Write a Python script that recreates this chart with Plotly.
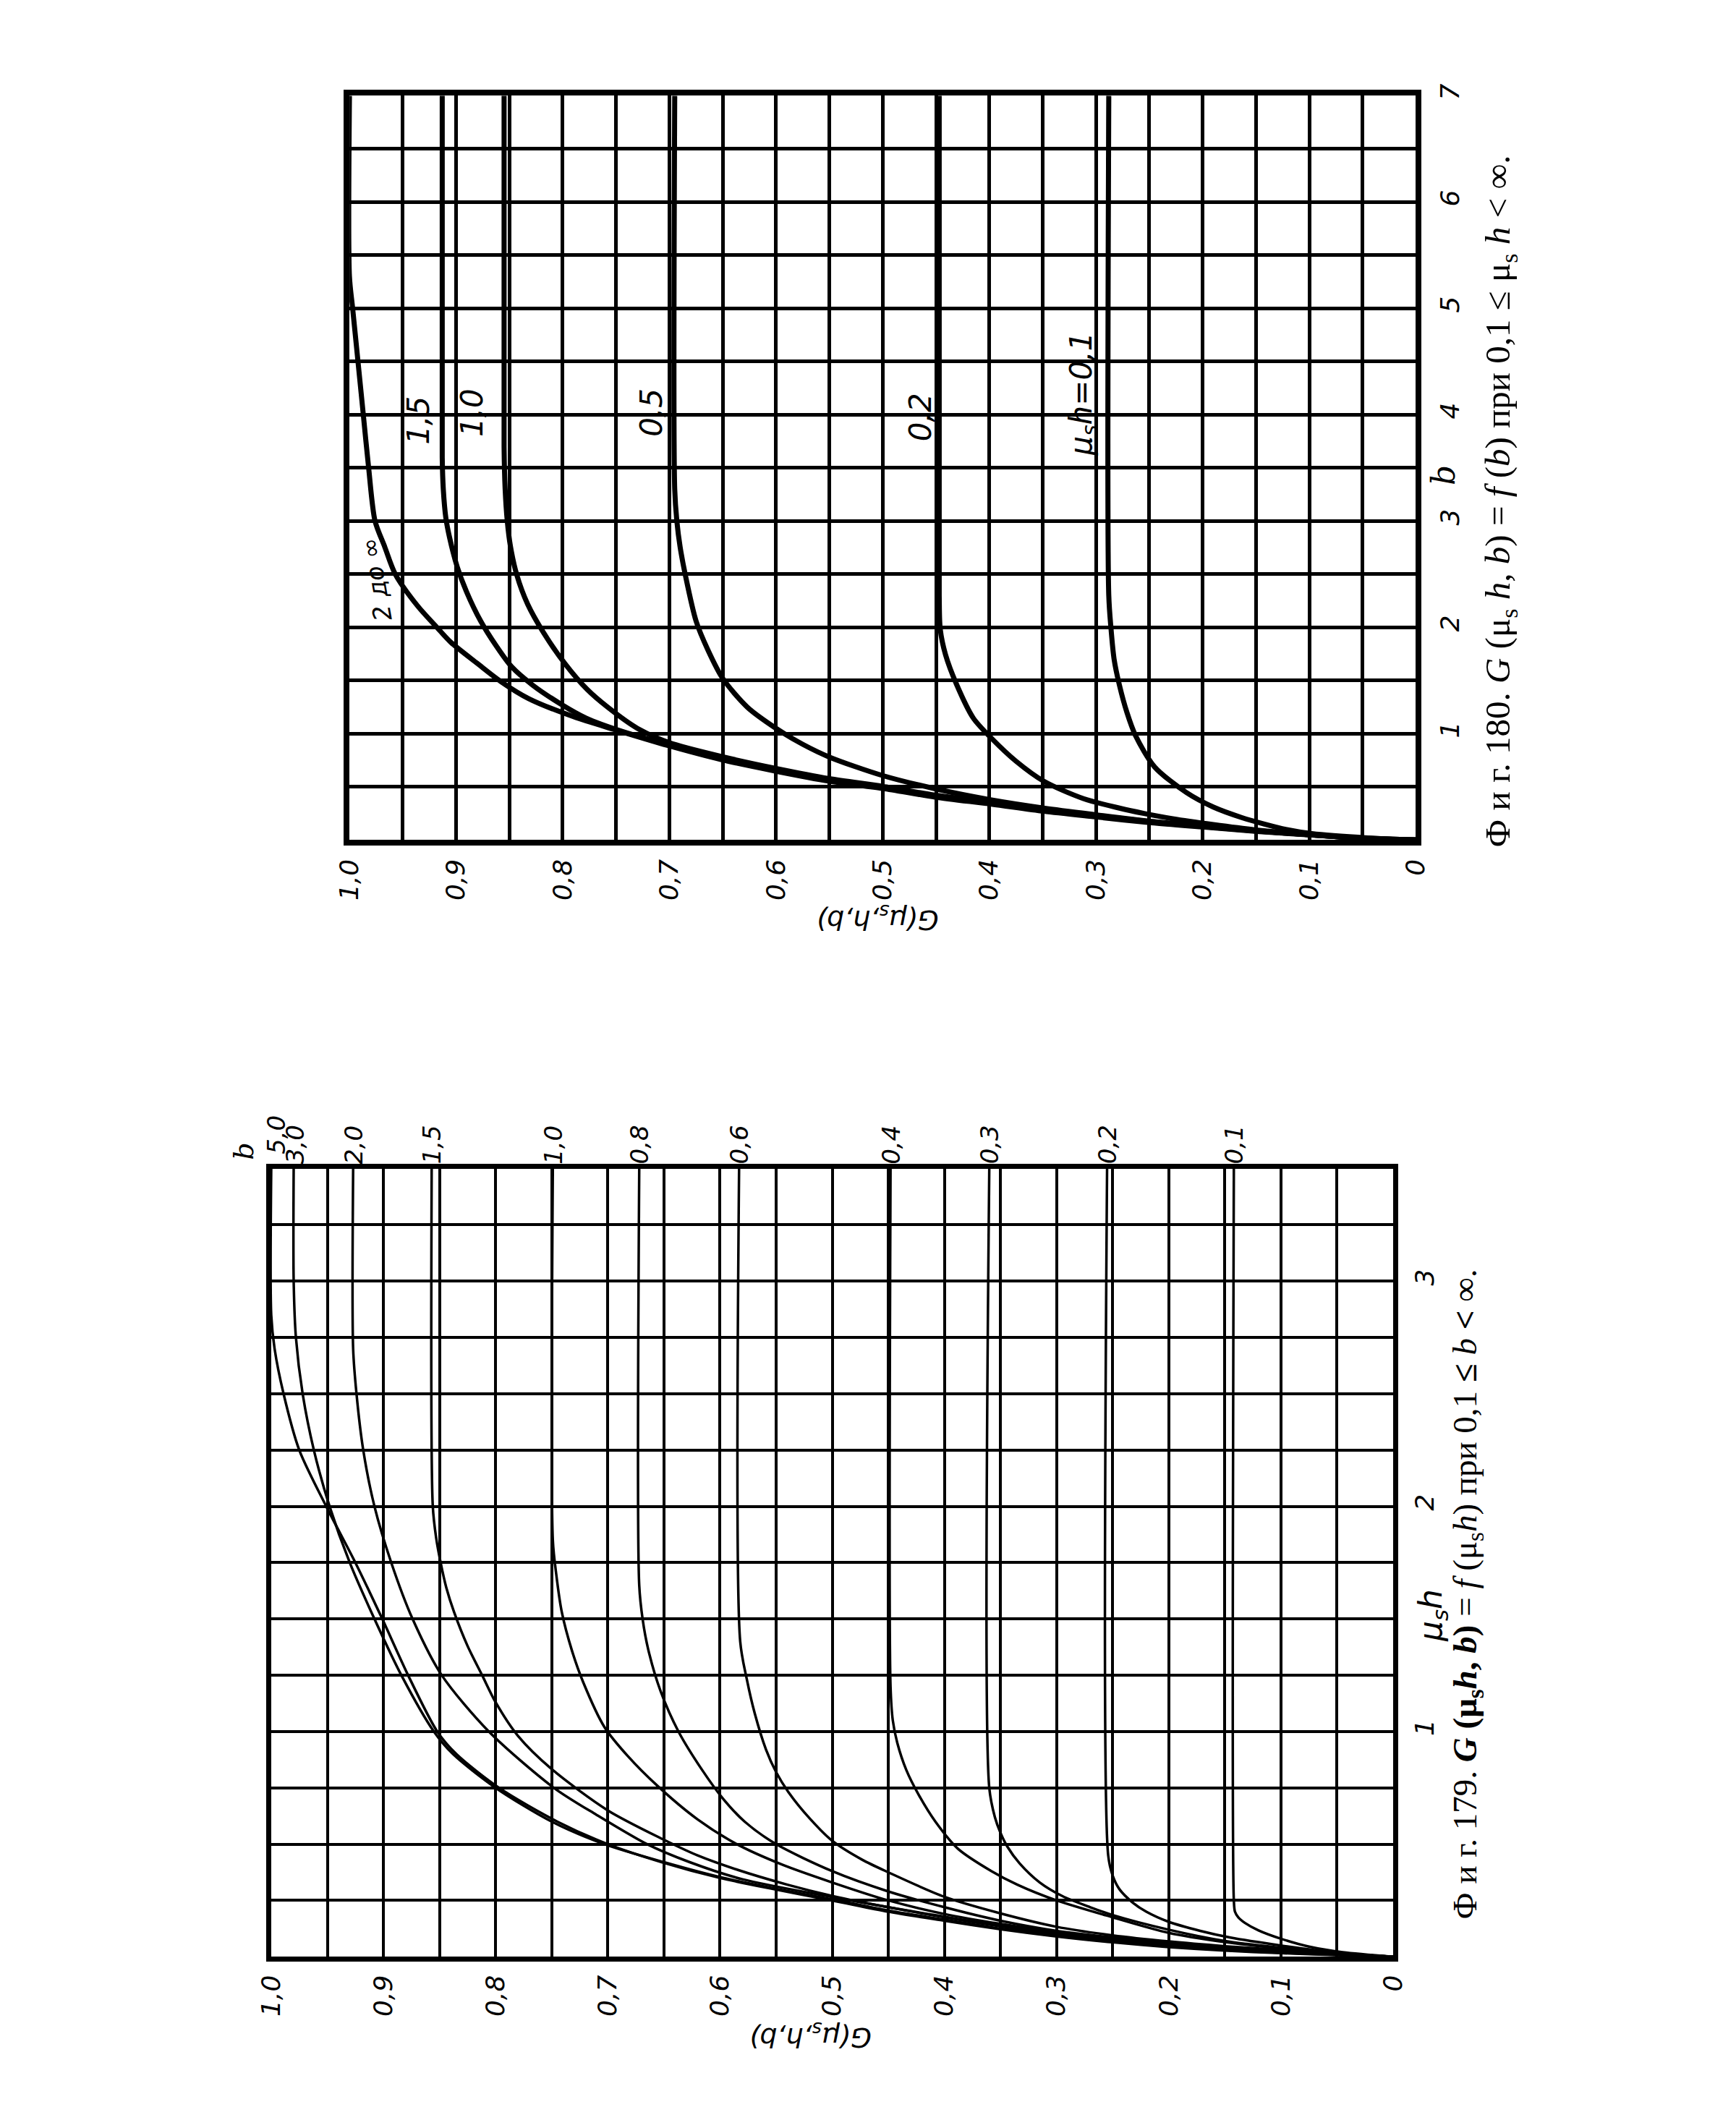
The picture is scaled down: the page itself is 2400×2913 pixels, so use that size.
import plotly.graph_objects as go

# ---------------- Fig. 180 : G(mu_s h, b) versus b, one curve per mu_s h ----------------
F180_B_INF = [0, 0.013, 0.046, 0.081, 0.121, 0.162, 0.216, 0.27, 0.337, 0.404, 0.485, 0.553, 0.647, 0.755, 0.89,
              1.04, 1.16, 1.33, 1.49, 1.66, 1.86, 2.0, 2.2, 2.5, 2.76, 3.0, 3.5, 4.0, 4.5, 5.0, 5.3, 7.0]
F180_G_INF = [0, 0.046, 0.0975, 0.149, 0.198, 0.248, 0.299, 0.349, 0.398, 0.451, 0.50, 0.55, 0.60, 0.651, 0.702,
              0.752, 0.79, 0.832, 0.858, 0.88, 0.905, 0.918, 0.936, 0.957, 0.967, 0.976, 0.982, 0.987, 0.992, 0.997, 1.0, 1.0]

F180_B_15 = [0, 0.014, 0.048, 0.084, 0.125, 0.167, 0.222, 0.277, 0.345, 0.413, 0.495, 0.565, 0.66, 0.77, 0.9,
             1.024, 1.146, 1.28, 1.455, 1.63, 1.82, 2.06, 2.33, 2.57, 2.84, 3.03, 3.3, 3.6, 7.0]
F180_G_15 = [0, 0.046, 0.0975, 0.149, 0.198, 0.248, 0.299, 0.349, 0.398, 0.451, 0.50, 0.55, 0.60, 0.651, 0.702,
             0.745, 0.778, 0.802, 0.828, 0.848, 0.862, 0.877, 0.89, 0.899, 0.906, 0.9096, 0.912, 0.913, 0.913]

F180_B_10 = [0, 0.015, 0.05, 0.087, 0.129, 0.172, 0.228, 0.284, 0.353, 0.422, 0.505, 0.577, 0.673, 0.785, 0.915,
             1.05, 1.25, 1.415, 1.66, 1.95, 2.22, 2.49, 2.76, 3.0, 3.3, 3.7, 7.0]
F180_G_10 = [0, 0.046, 0.0975, 0.149, 0.198, 0.248, 0.299, 0.349, 0.398, 0.451, 0.50, 0.55, 0.60, 0.651, 0.70,
             0.73, 0.758, 0.777, 0.798, 0.818, 0.833, 0.843, 0.849, 0.852, 0.854, 0.855, 0.855]

F180_B_05 = [0, 0.013, 0.048, 0.085, 0.13, 0.175, 0.236, 0.3, 0.38, 0.48, 0.606, 0.78, 0.9, 1.05, 1.25, 1.52,
             1.79, 2.06, 2.49, 2.76, 3.0, 3.3, 7.0]
F180_G_05 = [0, 0.045, 0.0975, 0.149, 0.198, 0.248, 0.299, 0.349, 0.40, 0.45, 0.50, 0.55, 0.575, 0.60, 0.627, 0.65,
             0.664, 0.675, 0.685, 0.69, 0.693, 0.695, 0.695]

F180_B_02 = [0, 0.015, 0.05, 0.095, 0.145, 0.2, 0.25, 0.3, 0.39, 0.553, 0.741, 0.957, 1.146, 1.47, 1.74, 1.98, 2.3, 7.0]
F180_G_02 = [0, 0.045, 0.10, 0.15, 0.19, 0.228, 0.255, 0.278, 0.312, 0.349, 0.375, 0.398, 0.415, 0.431, 0.441, 0.446,
             0.447, 0.447]

F180_B_01 = [0, 0.02, 0.06, 0.1, 0.15, 0.21, 0.31, 0.445, 0.687, 0.984, 1.2, 1.456, 1.7, 2.0, 2.3, 7.0]
F180_G_01 = [0, 0.045, 0.0975, 0.122, 0.142, 0.163, 0.19, 0.215, 0.245, 0.263, 0.271, 0.278, 0.283, 0.286, 0.288, 0.288]

F180_CURVES = [(F180_B_INF, F180_G_INF), (F180_B_15, F180_G_15), (F180_B_10, F180_G_10),
               (F180_B_05, F180_G_05), (F180_B_02, F180_G_02), (F180_B_01, F180_G_01)]

# inline curve labels of Fig. 180 : text, G, b, angle
F180_LABEL_TEXT = ["2 до ∞", "1,5", "1,0", "0,5", "0,2", "μ<sub>s</sub>h=0,1"]
F180_LABEL_G = [0.975, 0.935, 0.885, 0.717, 0.465, 0.312]
F180_LABEL_B = [2.45, 3.95, 4.02, 4.02, 3.98, 4.2]
F180_LABEL_ANGLE = [-100, -90, -90, -90, -90, -90]

# ---------------- Fig. 179 : G(mu_s h, b) versus mu_s h, one curve per b ----------------
F179_M_50 = [0, 0.007, 0.016, 0.027, 0.043, 0.064, 0.09, 0.122, 0.16, 0.2, 0.25, 0.3, 0.35, 0.42, 0.5, 0.6, 0.75,
             0.9, 1.0, 1.25, 1.5, 1.75, 2.0, 2.25, 2.5, 2.7, 2.85, 3.5]
F179_G_50 = [0, 0.05, 0.10, 0.15, 0.20, 0.25, 0.30, 0.35, 0.40, 0.45, 0.50, 0.552, 0.60, 0.652, 0.70, 0.745, 0.797,
             0.835, 0.852, 0.878, 0.901, 0.925, 0.951, 0.975, 0.989, 0.997, 1.0, 1.0]

F179_M_30 = [0, 0.008, 0.018, 0.03, 0.046, 0.067, 0.093, 0.125, 0.165, 0.205, 0.255, 0.3, 0.35, 0.42, 0.5, 0.6,
             0.75, 0.9, 1.0, 1.25, 1.5, 1.75, 2.0, 2.25, 2.5, 2.75, 3.0, 3.5]
F179_G_30 = [0, 0.05, 0.10, 0.15, 0.20, 0.25, 0.30, 0.35, 0.40, 0.45, 0.50, 0.548, 0.597, 0.65, 0.703, 0.75, 0.80,
             0.838, 0.855, 0.884, 0.908, 0.93, 0.948, 0.962, 0.972, 0.978, 0.98, 0.98]

F179_M_20 = [0, 0.009, 0.02, 0.033, 0.05, 0.072, 0.1, 0.135, 0.175, 0.22, 0.265, 0.344, 0.42, 0.5, 0.63, 0.75,
             1.0, 1.25, 1.5, 1.75, 2.0, 2.25, 2.5, 2.7, 3.5]
F179_G_20 = [0, 0.05, 0.10, 0.15, 0.20, 0.25, 0.30, 0.35, 0.40, 0.45, 0.50, 0.58, 0.627, 0.665, 0.71, 0.748, 0.806,
             0.848, 0.874, 0.893, 0.908, 0.918, 0.924, 0.927, 0.927]

F179_M_15 = [0, 0.009, 0.021, 0.035, 0.053, 0.076, 0.104, 0.138, 0.178, 0.22, 0.27, 0.32, 0.387, 0.45, 0.522, 0.65,
             0.833, 0.98, 1.13, 1.25, 1.38, 1.53, 1.64, 1.75, 1.86, 2.0, 3.5]
F179_G_15 = [0, 0.05, 0.10, 0.15, 0.20, 0.25, 0.30, 0.35, 0.40, 0.45, 0.50, 0.54, 0.585, 0.62, 0.651, 0.70, 0.75,
             0.78, 0.80, 0.812, 0.825, 0.837, 0.844, 0.849, 0.853, 0.856, 0.857]

F179_M_10 = [0, 0.01, 0.022, 0.037, 0.056, 0.08, 0.11, 0.146, 0.19, 0.25, 0.33, 0.41, 0.5, 0.61, 0.76, 0.89, 1.02,
             1.22, 1.36, 1.53, 1.7, 1.85, 3.5]
F179_G_10 = [0, 0.05, 0.10, 0.15, 0.20, 0.25, 0.30, 0.35, 0.40, 0.45, 0.50, 0.545, 0.585, 0.62, 0.656, 0.682, 0.703,
             0.722, 0.732, 0.741, 0.746, 0.749, 0.749]

F179_M_08 = [0, 0.012, 0.026, 0.042, 0.062, 0.086, 0.115, 0.16, 0.22, 0.29, 0.38, 0.5, 0.6, 0.7, 0.83, 1.0, 1.18,
             1.365, 1.5, 1.65, 3.5]
F179_G_08 = [0, 0.05, 0.10, 0.15, 0.20, 0.25, 0.30, 0.35, 0.40, 0.45, 0.50, 0.55, 0.578, 0.597, 0.616, 0.637, 0.653,
             0.664, 0.669, 0.672, 0.672]

F179_M_06 = [0, 0.014, 0.03, 0.047, 0.068, 0.095, 0.133, 0.191, 0.266, 0.375, 0.43, 0.515, 0.614, 0.731, 0.82, 0.92,
             1.08, 1.23, 1.4, 3.5]
F179_G_06 = [0, 0.05, 0.10, 0.15, 0.20, 0.25, 0.30, 0.349, 0.40, 0.45, 0.473, 0.50, 0.52, 0.539, 0.55, 0.559, 0.569,
             0.576, 0.582, 0.583]

F179_M_04 = [0, 0.015, 0.037, 0.065, 0.106, 0.175, 0.25, 0.32, 0.38, 0.48, 0.6, 0.72, 0.83, 0.95, 1.05, 1.2, 3.5]
F179_G_04 = [0, 0.05, 0.10, 0.15, 0.20, 0.25, 0.30, 0.335, 0.358, 0.388, 0.408, 0.423, 0.434, 0.442, 0.446, 0.448,
             0.448]

F179_M_03 = [0, 0.016, 0.04, 0.07, 0.12, 0.185, 0.22, 0.27, 0.33, 0.415, 0.49, 0.55, 0.62, 0.75, 3.5]
F179_G_03 = [0, 0.05, 0.10, 0.15, 0.20, 0.25, 0.27, 0.295, 0.315, 0.333, 0.344, 0.35, 0.355, 0.36, 0.36]

F179_M_02 = [0, 0.018, 0.05, 0.085, 0.115, 0.155, 0.2, 0.24, 0.3, 0.36, 0.45, 3.5]
F179_G_02 = [0, 0.05, 0.10, 0.145, 0.172, 0.2, 0.22, 0.232, 0.244, 0.25, 0.254, 0.255]

F179_M_01 = [0, 0.02, 0.045, 0.08, 0.117, 0.15, 0.175, 0.2, 0.25, 3.5]
F179_G_01 = [0, 0.045, 0.075, 0.10, 0.12, 0.132, 0.138, 0.141, 0.142, 0.142]

F179_CURVES = [(F179_M_50, F179_G_50), (F179_M_30, F179_G_30), (F179_M_20, F179_G_20), (F179_M_15, F179_G_15),
               (F179_M_10, F179_G_10), (F179_M_08, F179_G_08), (F179_M_06, F179_G_06), (F179_M_04, F179_G_04),
               (F179_M_03, F179_G_03), (F179_M_02, F179_G_02), (F179_M_01, F179_G_01)]

# labels of Fig. 179 curves written above the top frame
F179_LABEL_TEXT = ["5,0", "3,0", "2,0", "1,5", "1,0", "0,8", "0,6", "0,4", "0,3", "0,2", "0,1"]
F179_LABEL_G = [0.996, 0.979, 0.927, 0.857, 0.749, 0.672, 0.583, 0.448, 0.36, 0.255, 0.142]
F179_LABEL_LIFT = [14, 0, 0, 0, 0, 0, 0, 0, 0, 0, 0]

# axis ticks (labelled) and grid steps (unlabelled minor ticks)
G_TICKVALS = [0, 0.1, 0.2, 0.3, 0.4, 0.5, 0.6, 0.7, 0.8, 0.9, 1.0]
G_TICKTEXT = ["0", "0,1", "0,2", "0,3", "0,4", "0,5", "0,6", "0,7", "0,8", "0,9", "1,0"]
G_GRID = [0.05, 0.15, 0.25, 0.35, 0.45, 0.55, 0.65, 0.75, 0.85, 0.95]
B_TICKVALS = [1, 2, 3, 4, 5, 6, 7]
B_TICKTEXT = ["1", "2", "3", "4", "5", "6", "7"]
B_GRID = [0.5, 1.5, 2.5, 3.5, 4.5, 5.5, 6.5]
M_TICKVALS = [1, 2, 3]
M_TICKTEXT = ["1", "2", "3"]
M_GRID = [0.25, 0.5, 0.75, 1.25, 1.5, 1.75, 2.25, 2.5, 2.75, 3.25]

CAPTION_180 = ("Ф и г. 180. <i>G</i> (μ<sub>s</sub> <i>h</i>, <i>b</i>) = <i>f</i> (<i>b</i>) при "
               "0,1 ≤ μ<sub>s</sub> <i>h</i> < ∞.")
CAPTION_179 = ("Ф и г. 179. <b><i>G</i> (μ<sub>s</sub><i>h</i>, <i>b</i>)</b> = <i>f</i> (μ<sub>s</sub><i>h</i>) "
               "при 0,1 <b>≤</b> <i>b</i> <b><</b> ∞.")

# ---------------------------------------------------------------------------------------
W, H = 2400, 2913
INK = "black"
TICKFONT = dict(family="DejaVu Sans", size=36, color=INK, style="italic")

fig = go.Figure()

for b_vals, g_vals in F180_CURVES:
    fig.add_trace(go.Scatter(x=g_vals, y=b_vals, mode="lines", xaxis="x", yaxis="y",
                             line=dict(color=INK, width=7, shape="spline", smoothing=0.8),
                             hoverinfo="skip", showlegend=False))

for m_vals, g_vals in F179_CURVES:
    fig.add_trace(go.Scatter(x=g_vals, y=m_vals, mode="lines", xaxis="x2", yaxis="y2",
                             line=dict(color=INK, width=3.5, shape="spline", smoothing=0.8),
                             hoverinfo="skip", showlegend=False))


def grid_minor(vals, gw):
    return dict(tickmode="array", tickvals=vals, showgrid=True, gridcolor=INK, gridwidth=gw, ticks="")


def g_axis(domain, anchor, gw, lw):
    return dict(domain=domain, anchor=anchor, range=[1, 0], tickmode="array", tickvals=G_TICKVALS,
                ticktext=G_TICKTEXT, tickangle=-90, tickfont=TICKFONT, ticks="", ticklabelstandoff=4,
                showgrid=True, gridcolor=INK, gridwidth=gw, zeroline=False, showline=True,
                linecolor=INK, linewidth=lw, mirror=True, layer="below traces", minor=grid_minor(G_GRID, gw))


def v_axis(domain, anchor, rng, vals, text, grid, gw, lw, standoff):
    return dict(domain=domain, anchor=anchor, range=rng, side="right", tickmode="array", tickvals=vals,
                ticktext=text, tickangle=-90, tickfont=TICKFONT, ticks="", ticklabelstandoff=standoff,
                showgrid=True, gridcolor=INK, gridwidth=gw, zeroline=False, showline=True,
                linecolor=INK, linewidth=lw, mirror=True, layer="below traces", minor=grid_minor(grid, gw))


ann = []
# Fig 180 inline labels
for t, g, b, a in zip(F180_LABEL_TEXT, F180_LABEL_G, F180_LABEL_B, F180_LABEL_ANGLE):
    size = 34 if a != -90 else 42
    ann.append(dict(x=g, y=b, xref="x", yref="y", text=t, showarrow=False, textangle=a,
                    xanchor="center", yanchor="middle",
                    font=dict(family="DejaVu Sans", size=size, color=INK, style="italic")))
# Fig 179 labels above frame
for t, g, lift in zip(F179_LABEL_TEXT, F179_LABEL_G, F179_LABEL_LIFT):
    ann.append(dict(x=g, y=1, xref="x2", yref="y2 domain", text=t, showarrow=False, textangle=-90,
                    xanchor="center", yanchor="bottom", yshift=4 + lift,
                    font=dict(family="DejaVu Sans", size=34, color=INK, style="italic")))
ann.append(dict(x=1.0, y=1, xref="x2", yref="y2 domain", text="b", showarrow=False, textangle=-90,
                xanchor="center", yanchor="bottom", xshift=-38, yshift=10,
                font=dict(family="DejaVu Serif", size=38, color=INK, style="italic")))

# axis titles
ann.append(dict(x=1204 / W, y=1 - 1252 / H, xref="paper", yref="paper", text="G(μ<sub>s</sub>,h,b)",
                showarrow=False, textangle=180, xanchor="center", yanchor="middle",
                font=dict(family="DejaVu Sans", size=38, color=INK, style="italic")))
ann.append(dict(x=2000 / W, y=1 - 636 / H, xref="paper", yref="paper", text="b",
                showarrow=False, textangle=-90, xanchor="center", yanchor="middle",
                font=dict(family="DejaVu Serif", size=44, color=INK, style="italic")))
ann.append(dict(x=1110 / W, y=1 - 2806 / H, xref="paper", yref="paper", text="G(μ<sub>s</sub>,h,b)",
                showarrow=False, textangle=180, xanchor="center", yanchor="middle",
                font=dict(family="DejaVu Sans", size=38, color=INK, style="italic")))
ann.append(dict(x=1985 / W, y=1 - 2222 / H, xref="paper", yref="paper", text="μ<sub>s</sub>h",
                showarrow=False, textangle=-90, xanchor="center", yanchor="middle",
                font=dict(family="DejaVu Sans", size=44, color=INK, style="italic")))

# captions
ann.append(dict(x=2080 / W, y=1 - 672 / H, xref="paper", yref="paper", text=CAPTION_180,
                showarrow=False, textangle=-90, xanchor="center", yanchor="middle",
                font=dict(family="Liberation Serif", size=49, color=INK)))
ann.append(dict(x=2034 / W, y=1 - 2192 / H, xref="paper", yref="paper", text=CAPTION_179,
                showarrow=False, textangle=-90, xanchor="center", yanchor="middle",
                font=dict(family="Liberation Serif", size=47, color=INK)))

fig.update_layout(
    width=W, height=H, autosize=False,
    margin=dict(l=0, r=0, t=0, b=0, pad=0),
    paper_bgcolor="white", plot_bgcolor="white",
    showlegend=False,
    xaxis=g_axis([462 / W, 1962 / W], "y", 4.5, 8),
    yaxis=v_axis([1 - 1143 / H, 1 - 108 / H], "x", [0, 7], B_TICKVALS, B_TICKTEXT, B_GRID, 4.5, 8, 8),
    xaxis2=g_axis([352 / W, 1930 / W], "y2", 3.5, 7),
    yaxis2=v_axis([1 - 2696 / H, 1 - 1600 / H], "x2", [0, 3.5], M_TICKVALS, M_TICKTEXT, M_GRID, 3.5, 7, 6),
    annotations=ann,
)

fig.write_html("out.html")
